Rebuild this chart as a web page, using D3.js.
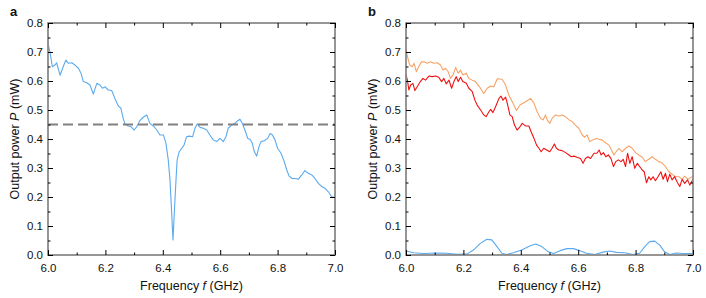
<!DOCTYPE html>
<html>
<head>
<meta charset="utf-8">
<script src="https://cdn.jsdelivr.net/npm/d3@7"></script>
<style>
  body { margin: 0; background: white; }
  text { font-family: "Liberation Sans", Arial, sans-serif; }
</style>
</head>
<body>
<div id="outer"></div>
<script>
////////// DATA //////////

// panel a : single trace
const freqA = [6.000,6.007,6.015,6.024,6.030,6.042,6.053,6.062,6.071,6.083,6.094,6.106,6.115,6.123,6.135,6.146,6.158,6.170,6.181,6.190,
  6.199,6.210,6.222,6.233,6.245,6.254,6.262,6.268,6.280,6.290,6.300,6.309,6.320,6.332,6.344,6.355,6.367,6.379,6.390,6.402,
  6.411,6.419,6.425,6.431,6.4355,6.440,6.446,6.450,6.457,6.466,6.474,6.483,6.492,6.504,6.512,6.520,6.530,6.541,6.553,6.564,
  6.576,6.588,6.599,6.611,6.620,6.628,6.640,6.652,6.661,6.669,6.677,6.686,6.696,6.704,6.712,6.719,6.727,6.735,6.742,6.754,
  6.765,6.774,6.782,6.791,6.800,6.812,6.823,6.832,6.840,6.851,6.863,6.872,6.884,6.895,6.907,6.919,6.930,6.942,6.954,6.965,
  6.977,6.988,7.000];
const powerA = [0.728,0.700,0.649,0.655,0.663,0.620,0.649,0.672,0.661,0.663,0.655,0.644,0.627,0.598,0.594,0.586,0.555,0.592,0.586,0.575,
  0.580,0.569,0.567,0.540,0.514,0.506,0.471,0.452,0.445,0.442,0.431,0.442,0.463,0.475,0.483,0.454,0.445,0.431,0.414,0.414,
  0.385,0.328,0.259,0.144,0.052,0.144,0.259,0.328,0.356,0.368,0.379,0.408,0.410,0.408,0.437,0.452,0.440,0.437,0.431,0.414,
  0.397,0.391,0.402,0.391,0.408,0.437,0.448,0.454,0.463,0.468,0.454,0.431,0.402,0.399,0.385,0.356,0.341,0.373,0.391,0.394,
  0.402,0.419,0.414,0.397,0.368,0.351,0.322,0.293,0.272,0.264,0.264,0.261,0.276,0.291,0.282,0.276,0.264,0.247,0.236,0.230,
  0.218,0.201,0.199];
const thresholdA = 0.45;

// panel b : orange trace
const freqOrange = [6.000,6.005,6.013,6.022,6.028,6.036,6.044,6.054,6.062,6.074,6.085,6.097,6.109,6.120,6.129,6.138,6.147,6.155,6.164,6.173,
  6.182,6.190,6.198,6.210,6.219,6.231,6.242,6.256,6.271,6.283,6.295,6.306,6.318,6.335,6.347,6.358,6.370,6.385,6.397,6.411,
  6.422,6.434,6.446,6.457,6.469,6.478,6.486,6.492,6.501,6.509,6.521,6.533,6.544,6.556,6.568,6.579,6.590,6.602,6.614,6.622,
  6.631,6.640,6.652,6.663,6.672,6.683,6.695,6.707,6.716,6.724,6.732,6.742,6.753,6.765,6.777,6.788,6.800,6.811,6.823,6.834,
  6.846,6.858,6.869,6.881,6.892,6.904,6.916,6.927,6.939,6.951,6.962,6.971,6.983,7.000];
const powerOrange = [0.713,0.684,0.655,0.649,0.661,0.632,0.649,0.666,0.666,0.661,0.666,0.661,0.663,0.655,0.638,0.644,0.632,0.609,0.621,0.647,
  0.627,0.638,0.621,0.627,0.609,0.603,0.598,0.580,0.557,0.575,0.583,0.580,0.608,0.606,0.586,0.552,0.529,0.498,0.517,0.525,
  0.532,0.540,0.523,0.494,0.471,0.466,0.483,0.466,0.454,0.471,0.483,0.479,0.483,0.477,0.466,0.460,0.448,0.437,0.414,0.406,
  0.414,0.391,0.397,0.402,0.399,0.397,0.387,0.379,0.362,0.345,0.356,0.368,0.356,0.368,0.376,0.368,0.353,0.345,0.337,0.322,
  0.330,0.339,0.330,0.322,0.318,0.305,0.287,0.279,0.270,0.270,0.261,0.272,0.261,0.272];

// panel b : red trace
const freqRed = [6.000,6.005,6.010,6.016,6.024,6.031,6.039,6.050,6.059,6.068,6.080,6.091,6.103,6.114,6.124,6.132,6.140,6.150,6.159,6.167,
  6.175,6.182,6.190,6.198,6.210,6.219,6.231,6.240,6.248,6.260,6.271,6.279,6.289,6.295,6.303,6.312,6.324,6.331,6.338,6.347,
  6.353,6.362,6.370,6.378,6.387,6.397,6.405,6.416,6.428,6.436,6.446,6.455,6.463,6.471,6.480,6.490,6.501,6.509,6.517,6.524,
  6.533,6.544,6.556,6.568,6.576,6.585,6.596,6.608,6.617,6.625,6.634,6.643,6.655,6.665,6.673,6.680,6.688,6.696,6.705,6.714,
  6.723,6.731,6.740,6.749,6.757,6.765,6.772,6.780,6.788,6.797,6.806,6.814,6.823,6.830,6.838,6.846,6.853,6.861,6.869,6.878,
  6.888,6.896,6.904,6.911,6.919,6.927,6.936,6.946,6.954,6.962,6.971,6.981,6.989,7.000];
const powerRed = [0.621,0.603,0.569,0.586,0.592,0.567,0.580,0.598,0.609,0.603,0.617,0.615,0.617,0.613,0.598,0.609,0.590,0.603,0.575,0.598,
  0.615,0.598,0.613,0.598,0.592,0.575,0.563,0.534,0.517,0.500,0.483,0.477,0.494,0.502,0.491,0.511,0.540,0.548,0.534,0.544,
  0.523,0.483,0.477,0.448,0.431,0.442,0.454,0.445,0.445,0.425,0.402,0.379,0.368,0.356,0.368,0.362,0.356,0.368,0.383,0.368,
  0.362,0.360,0.353,0.345,0.339,0.341,0.337,0.333,0.316,0.333,0.339,0.333,0.351,0.351,0.362,0.345,0.353,0.339,0.345,0.333,
  0.305,0.322,0.328,0.322,0.330,0.305,0.351,0.316,0.339,0.299,0.316,0.305,0.293,0.287,0.249,0.270,0.259,0.270,0.256,0.270,
  0.287,0.261,0.282,0.253,0.279,0.259,0.270,0.249,0.236,0.261,0.247,0.259,0.241,0.261];

// panel b : blue trace (near zero)
const freqBlue = [6.000,6.026,6.061,6.107,6.142,6.177,6.212,6.235,6.259,6.282,6.299,6.317,6.334,6.351,6.374,6.403,6.433,6.452,6.473,6.496,
  6.514,6.537,6.560,6.583,6.606,6.629,6.658,6.687,6.710,6.733,6.762,6.791,6.814,6.832,6.849,6.867,6.884,6.901,6.919,6.942,
  6.965,7.000];
const powerBlue = [0.014,0.008,0.005,0.007,0.006,0.002,0.003,0.017,0.040,0.054,0.052,0.029,0.006,0.002,0.008,0.017,0.032,0.038,0.029,0.011,
  0.005,0.015,0.022,0.022,0.015,0.006,0.002,0.010,0.014,0.009,0.008,0.002,0.006,0.029,0.046,0.048,0.034,0.011,0.002,0.007,
  0.005,0.005];

// axes
const xTicks = [6.0, 6.2, 6.4, 6.6, 6.8, 7.0];
const xMinor = [6.1, 6.3, 6.5, 6.7, 6.9];
const yTicks = [0.0, 0.1, 0.2, 0.3, 0.4, 0.5, 0.6, 0.7, 0.8];
const yMinor = [0.05, 0.15, 0.25, 0.35, 0.45, 0.55, 0.65, 0.75];

////////// SIZING //////////
const W = 706, H = 298;
const plotTop = 23, plotH = 232, plotW = 287;
const panels = [
  { id: 'a', left: 48, series: [{ f: freqA, p: powerA, color: '#5aaaf0' }], threshold: thresholdA },
  { id: 'b', left: 406, series: [
      { f: freqOrange, p: powerOrange, color: '#f7a366' },
      { f: freqRed, p: powerRed, color: '#ee1111' },
      { f: freqBlue, p: powerBlue, color: '#5aaaf0' }
    ] }
];

const svg = d3.select('#outer').append('svg')
  .attr('width', W)
  .attr('height', H);

panels.forEach(panel => {
  const g = svg.append('g').attr('transform', `translate(${panel.left},${plotTop})`);

  const x = d3.scaleLinear().domain([6, 7]).range([0, plotW]);
  const y = d3.scaleLinear().domain([0, 0.8]).range([plotH, 0]);

  // data lines
  panel.series.forEach(s => {
    const line = d3.line().x(i => x(s.f[i])).y(i => y(s.p[i]));
    g.append('path')
      .attr('d', line(d3.range(s.f.length)))
      .attr('fill', 'none')
      .attr('stroke', s.color)
      .attr('stroke-width', 1.1)
      .attr('stroke-linejoin', 'round');
  });

  // threshold dashed line
  if (panel.threshold !== undefined) {
    g.append('line')
      .attr('x1', 0).attr('x2', plotW)
      .attr('y1', y(panel.threshold)).attr('y2', y(panel.threshold))
      .attr('stroke', '#808080')
      .attr('stroke-width', 2.2)
      .attr('stroke-dasharray', '10,5');
  }

  // frame
  g.append('rect')
    .attr('width', plotW).attr('height', plotH)
    .attr('fill', 'none')
    .attr('stroke', '#848484')
    .attr('stroke-width', 1.7);

  // ticks (inward, all four sides)
  const fmt = d3.format('.1f');
  const axes = [
    { a: d3.axisBottom(x).tickValues(xTicks).tickFormat(fmt).tickSize(-5).tickPadding(9), t: `translate(0,${plotH})`, labels: true },
    { a: d3.axisBottom(x).tickValues(xMinor).tickFormat('').tickSize(-2.5), t: `translate(0,${plotH})` },
    { a: d3.axisTop(x).tickValues(xTicks).tickFormat('').tickSize(-5), t: 'translate(0,0)' },
    { a: d3.axisTop(x).tickValues(xMinor).tickFormat('').tickSize(-2.5), t: 'translate(0,0)' },
    { a: d3.axisLeft(y).tickValues(yTicks).tickFormat(fmt).tickSize(-5).tickPadding(5), t: 'translate(0,0)', labels: true },
    { a: d3.axisLeft(y).tickValues(yMinor).tickFormat('').tickSize(-2.5), t: 'translate(0,0)' },
    { a: d3.axisRight(y).tickValues(yTicks).tickFormat('').tickSize(-5), t: `translate(${plotW},0)` },
    { a: d3.axisRight(y).tickValues(yMinor).tickFormat('').tickSize(-2.5), t: `translate(${plotW},0)` }
  ];
  axes.forEach(ax => {
    const ag = g.append('g').attr('transform', ax.t).call(ax.a);
    ag.select('.domain').remove();
    ag.selectAll('line').attr('stroke', '#000').attr('stroke-width', 1);
    ag.selectAll('text')
      .attr('fill', '#111')
      .style('font-size', '11.5px')
      .style('font-family', '"Liberation Sans", Arial, sans-serif');
  });

  // axis titles
  const xt = g.append('text')
    .attr('x', plotW / 2).attr('y', plotH + 35)
    .attr('text-anchor', 'middle')
    .attr('fill', '#111')
    .style('font-size', '12.5px');
  xt.append('tspan').text('Frequency ');
  xt.append('tspan').attr('font-style', 'italic').text('f');
  xt.append('tspan').text(' (GHz)');

  const yt = g.append('text')
    .attr('transform', `translate(-29,${plotH / 2}) rotate(-90)`)
    .attr('text-anchor', 'middle')
    .attr('fill', '#111')
    .style('font-size', '12.5px');
  yt.append('tspan').text('Output power ');
  yt.append('tspan').attr('font-style', 'italic').text('P');
  yt.append('tspan').text(' (mW)');

  // panel letter
  svg.append('text')
    .attr('x', panel.left - 38).attr('y', 16)
    .attr('font-weight', 'bold')
    .attr('fill', '#111')
    .style('font-size', '13px')
    .text(panel.id);
});
</script>
</body>
</html>
